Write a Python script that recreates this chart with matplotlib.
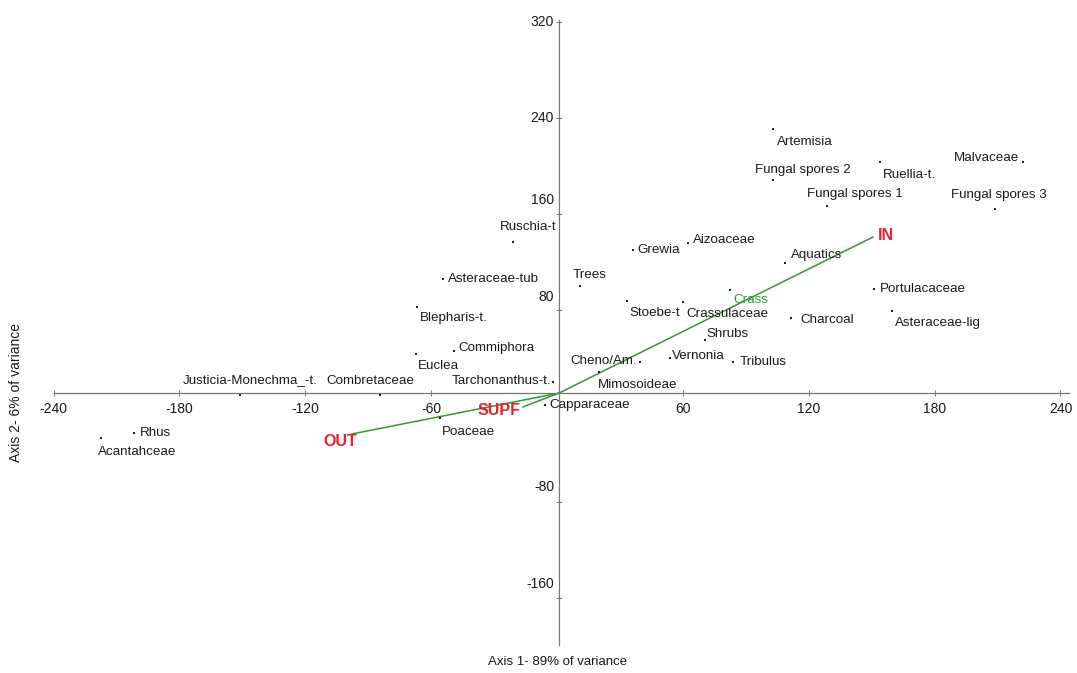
import matplotlib
matplotlib.use("Agg")
import matplotlib.pyplot as plt
from matplotlib import font_manager

# ----------------------------------------------------------
# Data (axis units)
# ----------------------------------------------------------
taxa = [
    "Artemisia", "Fungal spores 2", "Ruellia-t.", "Fungal spores 1", "Malvaceae",
    "Fungal spores 3", "Aquatics", "Portulacaceae", "Crass", "Crassulaceae",
    "Stoebe-t", "Trees", "Grewia", "Aizoaceae", "Shrubs", "Vernonia",
    "Tribulus", "Charcoal", "Asteraceae-lig", "Cheno/Am.", "Mimosoideae",
    "Capparaceae", "Tarchonanthus-t.", "Commiphora", "Euclea", "Blepharis-t.",
    "Asteraceae-tub", "Ruschia-t", "Justicia-Monechma_-t.", "Combretaceae",
    "Rhus", "Acantahceae", "Poaceae",
]
axis1 = [
    103.0, 103.0, 154.0, 128.7, 222.1,
    208.8, 108.7, 151.1, 82.5, 60.1,
    33.4, 11.0, 36.2, 62.4, 70.5, 54.0,
    83.9, 111.5, 159.7, 39.6, 20.0,
    -5.7, -1.9, -49.1, -67.2, -66.7,
    -54.3, -21.0, -151.1, -84.4,
    -201.6, -217.3, -55.8,
]
axis2 = [
    230.8, 188.3, 203.3, 166.7, 203.3,
    164.2, 119.2, 97.5, 96.7, 86.7,
    87.5, 100.0, 130.0, 135.8, 55.0, 40.0,
    36.7, 73.3, 79.2, 36.7, 28.3,
    0.8, 20.0, 45.8, 43.3, 82.5,
    105.8, 136.7, 9.2, 9.2,
    -22.5, -26.7, -10.0,
]

# site groups (vectors drawn from the origin)
groups = ["IN", "SUPF", "OUT"]
group_x = [150.6, -16.2, -97.7]
group_y = [140.8, -0.8, -23.3]

origin_x, origin_y = 1.0, 10.8
x_ticks = [-240, -180, -120, -60, 60, 120, 180, 240]
y_ticks = [-160, -80, 80, 160, 240, 320]

# ----------------------------------------------------------
# Label placement (pixel offsets from each point)
# ----------------------------------------------------------
label_pos = {
    "Artemisia": (4, -13, "left"),
    "Fungal spores 2": (-18, 10, "left"),
    "Ruellia-t.": (3, -13, "left"),
    "Fungal spores 1": (-20, 12, "left"),
    "Malvaceae": (-4, 4, "right"),
    "Fungal spores 3": (-44, 14, "left"),
    "Aquatics": (6, 8, "left"),
    "Portulacaceae": (6, 0, "left"),
    "Crass": (3, -10, "left"),
    "Crassulaceae": (3, -12, "left"),
    "Stoebe-t": (2, -12, "left"),
    "Trees": (-7, 11, "left"),
    "Grewia": (4, 0, "left"),
    "Aizoaceae": (5, 3, "left"),
    "Shrubs": (2, 6, "left"),
    "Vernonia": (2, 2, "left"),
    "Tribulus": (7, 0, "left"),
    "Charcoal": (9, -2, "left"),
    "Asteraceae-lig": (3, -12, "left"),
    "Cheno/Am.": (-3, 1, "right"),
    "Mimosoideae": (-1, -13, "left"),
    "Capparaceae": (4, 0, "left"),
    "Tarchonanthus-t.": (-2, 1, "right"),
    "Commiphora": (4, 3, "left"),
    "Euclea": (2, -12, "left"),
    "Blepharis-t.": (3, -11, "left"),
    "Asteraceae-tub": (5, 0, "left"),
    "Ruschia-t": (-13, 15, "left"),
    "Justicia-Monechma_-t.": (10, 15, "center"),
    "Combretaceae": (-10, 14, "center"),
    "Rhus": (6, 0, "left"),
    "Acantahceae": (-3, -14, "left"),
    "Poaceae": (2, -14, "left"),
}
group_label_pos = {"IN": (5, 2, "left"), "SUPF": (-3, -4, "right"), "OUT": (-12, -8, "center")}
# y tick labels sit a little above some of the ticks
ytick_shift = {320: 0, 240: 0, 160: 14, 80: 13, -80: 15, -160: 14}

LINE_GREEN = "#2f9a2f"
RED = "#e8202a"
AXIS_GREY = "#777777"
TEXT = "#1a1a1a"

available = {f.name for f in font_manager.fontManager.ttflist}
FONT = "Liberation Sans Narrow" if "Liberation Sans Narrow" in available else "Liberation Sans"
plt.rcParams["font.family"] = [FONT, "DejaVu Sans"]
LABEL_SIZE = 9.6

fig = plt.figure(figsize=(10.77, 6.73), dpi=100)
ax = fig.add_axes([0.0497, 0.0401, 0.9447, 0.9308])
ax.set_xlim(-240, 245)
ax.set_ylim(-200, 322)

# axes through the origin
for side in ["top", "right"]:
    ax.spines[side].set_visible(False)
ax.spines["left"].set_position(("data", origin_x))
ax.spines["bottom"].set_position(("data", origin_y))
ax.spines["left"].set_bounds(-199, 322)
ax.spines["bottom"].set_bounds(-240, 244)
for side in ["left", "bottom"]:
    ax.spines[side].set_color(AXIS_GREY)
    ax.spines[side].set_linewidth(0.9)

ax.set_xticks(x_ticks)
ax.set_yticks(y_ticks)
ax.set_xticklabels([str(v) for v in x_ticks])
ax.set_yticklabels([])
ax.tick_params(direction="inout", length=5, width=0.7, color=AXIS_GREY,
               labelsize=10, labelcolor=TEXT, pad=4)

for v in y_ticks:
    ax.annotate(str(v), (origin_x, v), xytext=(-5, ytick_shift[v]),
                textcoords="offset pixels", ha="right", va="center",
                fontsize=10, color=TEXT)

# vectors for site groups
for g, gx, gy in zip(groups, group_x, group_y):
    ax.plot([origin_x, gx], [origin_y, gy], color=LINE_GREEN, lw=1.1, zorder=2)
    dx, dy, ha = group_label_pos[g]
    ax.annotate(g, (gx, gy), xytext=(dx, dy), textcoords="offset pixels",
                ha=ha, va="center", color=RED, fontsize=11.5, fontweight="bold")

# taxa points
ax.scatter(axis1, axis2, s=3, marker="s", color="#222222", lw=0, zorder=3)
for name, x, y in zip(taxa, axis1, axis2):
    dx, dy, ha = label_pos[name]
    color = LINE_GREEN if name == "Crass" else TEXT
    ax.annotate(name, (x, y), xytext=(dx, dy), textcoords="offset pixels",
                ha=ha, va="center", fontsize=LABEL_SIZE, color=color, zorder=4)

fig.text(558 / 1077, 1 - 662 / 673, "Axis 1- 89% of variance",
         ha="center", va="center", fontsize=9.5, color=TEXT)
fig.text(16 / 1077, 1 - 392 / 673, "Axis 2- 6% of variance", rotation=90,
         ha="center", va="center", fontsize=10, color=TEXT)

fig.savefig("out.png", dpi=100, facecolor="white")
plt.close(fig)
